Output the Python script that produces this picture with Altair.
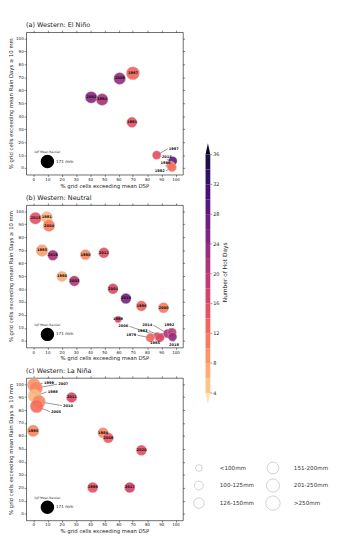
import altair as alt
import pandas as pd
import numpy as np

FONT = "DejaVu Sans"

# ---------------- (a) Western: El Niño ----------------
years_a = [1987, 2009, 2002, 1994, 1991, 1997, 2015, 1986, 1982]
dsp_a   = [70.0, 60.7, 40.7, 48.4, 69.3, 86.7, 98.0, 96.5, 97.5]
rain_a  = [73.2, 69.1, 54.6, 52.9, 35.3, 10.0, 5.5, 2.0, 0.5]
hot_a   = [13, 23, 24, 21, 15, 15, 28, 10, 12]
cat_a   = [5, 4, 4, 4, 3, 2, 2, 2, 2]
labx_a  = [None, None, None, None, None, 98.7, 93.8, 92.9, 88.9]
laby_a  = [None, None, None, None, None, 14.8, 8.7, 3.9, -2.2]

# ---------------- (b) Western: Neutral ----------------
years_b = [2013, 1981, 2004, 1993, 2019, 1990, 2012, 1980, 2003, 2001, 2016,
           1996, 2000, 1989, 2006, 1983, 2014, 1992, 1979, 1985, 2018]
dsp_b   = [1.6, 9.6, 11.1, 6.2, 13.8, 36.7, 49.6, 20.2, 28.9, 56.0, 65.1,
           76.0, 91.5, 59.6, 87.0, 90.0, 94.4, 97.5, 82.2, 88.9, 97.8]
rain_b  = [94.7, 95.4, 89.0, 69.8, 66.1, 66.6, 68.0, 49.8, 46.3, 40.3, 32.7,
           27.0, 25.6, 16.6, 4.0, 3.5, 5.6, 6.5, 2.4, 2.4, 3.1]
hot_b   = [15, 6, 11, 8, 21, 10, 15, 7, 20, 16, 26,
           13, 11, 17, 16, 15, 20, 19, 13, 16, 23]
cat_b   = [4, 4, 4, 4, 3, 3, 3, 3, 3, 3, 3,
           3, 3, 1, 1, 1, 2, 2, 2, 2, 2]
labx_b  = [None] * 14 + [63.3, 76.7, 80.0, 95.5, 68.9, 85.5, 98.9]
laby_b  = [None] * 14 + [11.2, 7.8, 12.2, 12.2, 4.4, -1.8, -3.0]

# ---------------- (c) Western: La Niña ----------------
years_c = [1999, 2007, 1988, 2010, 2005, 2011, 1995, 1984, 2008, 2020, 1998, 2017]
dsp_c   = [0.5, 2.0, 1.0, 4.0, 2.5, 27.0, 0.0, 49.0, 52.7, 76.0, 41.8, 67.8]
rain_c  = [99.5, 97.0, 91.0, 86.5, 83.0, 89.8, 64.0, 62.5, 58.6, 49.0, 20.3, 20.3]
hot_c   = [9, 10, 6, 10, 12, 16, 10, 10, 14, 15, 15, 17]
cat_c   = [5, 5, 5, 5, 5, 3, 4, 3, 3, 3, 3, 3]
labx_c  = [11.1, 21.1, 13.8, 24.5, 16.0] + [None] * 7
laby_c  = [100.8, 100.0, 94.0, 83.5, 78.8] + [None] * 7

# DJF mean rainfall reference bubble
ref_x = [10]
ref_y = [5]
ref_label = ["171 mm"]
ref_title = ["DJF Mean Rainfall"]

# size legend
size_cats = [1, 2, 3, 4, 5, 6]
size_labels = ["<100mm", "100-125mm", "126-150mm", "151-200mm", "201-250mm", ">250mm"]
size_col = [0, 0, 0, 1, 1, 1]
size_row = [0, 1, 2, 0, 1, 2]

# colourbar
cbar_ticks = [4, 8, 12, 16, 20, 24, 28, 32, 36]
cbar_edges = list(range(4, 36, 2))

ticks = list(range(0, 101, 10))

color_scale = alt.Scale(scheme="magma", domain=[0, 40], reverse=True)
size_scale = alt.Scale(domain=[1, 6], range=[50, 227], zero=False, nice=False)
xs = alt.Scale(domain=[-5, 105], nice=False, zero=False)
ys = alt.Scale(domain=[-5, 105], nice=False, zero=False)

AX = dict(labelFont=FONT, titleFont=FONT, labelFontSize=4.2, titleFontSize=5.6,
          tickSize=2, tickWidth=0.5, tickColor="#000", domainColor="#000",
          domainWidth=0.6, grid=False, labelPadding=1, titlePadding=2,
          labelColor="#222", titleColor="#222", titleFontWeight="normal",
          values=ticks, minExtent=0)

PW, PH = 165, 150
HALF_W = 4.3


def panel(title, years, dsp, rain, hot, cat, labx, laby):
    df = pd.DataFrame(dict(year=years, dsp=dsp, rain=rain, hot=hot, cat=cat,
                           lx=labx, ly=laby))
    df["lead"] = df["lx"].notna()
    df["lx"] = df["lx"].fillna(df["dsp"])
    df["ly"] = df["ly"].fillna(df["rain"])
    ex, ey = [], []
    for _, r in df.iterrows():
        dx = r.dsp - r.lx
        if abs(dx) > HALF_W:
            ex.append(r.lx + HALF_W * np.sign(dx)); ey.append(r.ly)
        else:
            ex.append(r.lx); ey.append(r.ly + 2.2 * np.sign(r.rain - r.ly))
    df["ex"] = ex
    df["ey"] = ey
    lead = df[df["lead"]]

    ref = pd.DataFrame(dict(x=ref_x, y=ref_y, lab=ref_label, tt=ref_title))

    base = alt.Chart(df)
    rules = alt.Chart(lead).mark_rule(color="#222", strokeWidth=0.5).encode(
        x=alt.X("ex:Q", scale=xs, axis=None), y=alt.Y("ey:Q", scale=ys, axis=None),
        x2="dsp:Q", y2="rain:Q")
    circles = base.mark_circle(opacity=0.92, stroke="#cccccc", strokeWidth=0.4).encode(
        x=alt.X("dsp:Q", scale=xs,
                axis=alt.Axis(title="% grid cells exceeding mean DSP", orient="bottom", **AX)),
        y=alt.Y("rain:Q", scale=ys,
                axis=alt.Axis(title="% grid cells exceeding mean Rain Days \u2265 10 mm",
                              orient="left", **AX)),
        color=alt.Color("hot:Q", scale=color_scale, legend=None),
        size=alt.Size("cat:Q", scale=size_scale, legend=None),
    )
    labels = base.mark_text(font=FONT, fontSize=3.8, fontWeight="bold", color="#111",
                            baseline="middle").encode(
        x=alt.X("lx:Q", scale=xs, axis=None), y=alt.Y("ly:Q", scale=ys, axis=None),
        text="year:N")
    rc = alt.Chart(ref).mark_circle(color="black", opacity=1, size=200).encode(
        x=alt.X("x:Q", scale=xs, axis=None), y=alt.Y("y:Q", scale=ys, axis=None))
    rt = alt.Chart(ref).mark_text(font=FONT, fontSize=4.4, color="#222", align="left",
                                  baseline="middle", dx=9).encode(
        x=alt.X("x:Q", scale=xs, axis=None), y=alt.Y("y:Q", scale=ys, axis=None), text="lab:N")
    rtt = alt.Chart(ref).mark_text(font=FONT, fontSize=3.1, color="#222",
                                   baseline="bottom", dy=-8).encode(
        x=alt.X("x:Q", scale=xs, axis=None), y=alt.Y("y:Q", scale=ys, axis=None), text="tt:N")
    AXD = dict(AX)
    AXD.update(labels=False, title=None)
    AXD.pop("titleFontWeight")
    dummy = base.mark_point(opacity=0).encode(
        x=alt.X("dsp:Q", scale=xs, axis=alt.Axis(orient="top", **AXD)),
        y=alt.Y("rain:Q", scale=ys, axis=alt.Axis(orient="right", **AXD)))
    return alt.layer(rules, circles, labels, rc, rt, rtt, dummy).resolve_axis(
        x="independent", y="independent").properties(
        width=PW, height=PH,
        title=alt.TitleParams(title, anchor="start", frame="group", font=FONT,
                              fontSize=6.8, fontWeight="normal", color="#222", offset=1))


pa = panel("(a) Western: El Ni\u00f1o", years_a, dsp_a, rain_a, hot_a, cat_a, labx_a, laby_a)
pb = panel("(b) Western: Neutral", years_b, dsp_b, rain_b, hot_b, cat_b, labx_b, laby_b)
pc = panel("(c) Western: La Ni\u00f1a", years_c, dsp_c, rain_c, hot_c, cat_c, labx_c, laby_c)

left = alt.vconcat(pa, pb, pc, spacing=5)

# ---------------- right column: colourbar + size legend ----------------
CB_TOP, CB_BOT = 129, 380
CBX = 19
cbs = alt.Scale(domain=[4, 36], range=[CB_BOT, CB_TOP], nice=False, zero=False)
cb_df = pd.DataFrame(dict(lo=cbar_edges, hi=[e + 2 for e in cbar_edges],
                          mid=[e + 1 for e in cbar_edges]))
cbar = alt.Chart(cb_df).mark_rect().encode(
    x=alt.value(CBX), x2=alt.value(CBX + 5),
    y=alt.Y("lo:Q", scale=cbs, axis=None), y2="hi:Q",
    color=alt.Color("mid:Q", scale=color_scale, legend=None))
tri_top = alt.Chart(pd.DataFrame(dict(v=[36], c=[38]))).mark_point(
    shape="M-0.42,0L0,-2L0.42,0Z", size=144, filled=True, opacity=1).encode(
    x=alt.value(CBX + 2.5), y=alt.Y("v:Q", scale=cbs, axis=None),
    color=alt.Color("c:Q", scale=color_scale, legend=None))
tri_bot = alt.Chart(pd.DataFrame(dict(v=[4], c=[2]))).mark_point(
    shape="M-0.42,0L0,2L0.42,0Z", size=144, filled=True, opacity=1).encode(
    x=alt.value(CBX + 2.5), y=alt.Y("v:Q", scale=cbs, axis=None),
    color=alt.Color("c:Q", scale=color_scale, legend=None))
tk_df = pd.DataFrame(dict(v=cbar_ticks))
cb_ticks = alt.Chart(tk_df).mark_rule(color="#333", strokeWidth=0.5).encode(
    x=alt.value(CBX + 5), x2=alt.value(CBX + 7), y=alt.Y("v:Q", scale=cbs, axis=None))
cb_labels = alt.Chart(tk_df).mark_text(font=FONT, fontSize=5.2, color="#222", align="left",
                                       baseline="middle").encode(
    x=alt.value(CBX + 8), y=alt.Y("v:Q", scale=cbs, axis=None), text="v:Q")
cb_title = alt.Chart(pd.DataFrame(dict(t=["Number of Hot Days"]))).mark_text(
    font=FONT, fontSize=6.2, color="#222", angle=270, baseline="middle").encode(
    x=alt.value(CBX + 21), y=alt.value(253), text="t:N")

lg_df = pd.DataFrame(dict(cat=size_cats, lab=size_labels, col=size_col, row=size_row))
lxs = alt.Scale(domain=[0, 1], range=[12, 90])
lys = alt.Scale(domain=[0, 2], range=[459, 496])
lg_c = alt.Chart(lg_df).mark_point(shape="circle", filled=False, color="#b0b0b0",
                                   strokeWidth=0.6, opacity=1).encode(
    x=alt.X("col:Q", scale=lxs, axis=None), y=alt.Y("row:Q", scale=lys, axis=None),
    size=alt.Size("cat:Q", scale=size_scale, legend=None))
lg_t = alt.Chart(lg_df).mark_text(font=FONT, fontSize=5.9, color="#333", align="left",
                                  baseline="middle", dx=22).encode(
    x=alt.X("col:Q", scale=lxs, axis=None), y=alt.Y("row:Q", scale=lys, axis=None),
    text="lab:N")

cb_part = alt.layer(cbar, tri_top, tri_bot, cb_ticks, cb_labels, cb_title)
lg_part = alt.layer(lg_c, lg_t)
right = alt.layer(cb_part, lg_part).resolve_scale(
    x="independent", y="independent").properties(width=146, height=505)

chart = alt.hconcat(left, right, spacing=1).properties(
    padding={"left": 0, "top": 0, "right": 0, "bottom": 0}).configure(
    font=FONT).configure_view(stroke="transparent")

chart.save("out.html", embed_options={"renderer": "svg", "actions": False})
